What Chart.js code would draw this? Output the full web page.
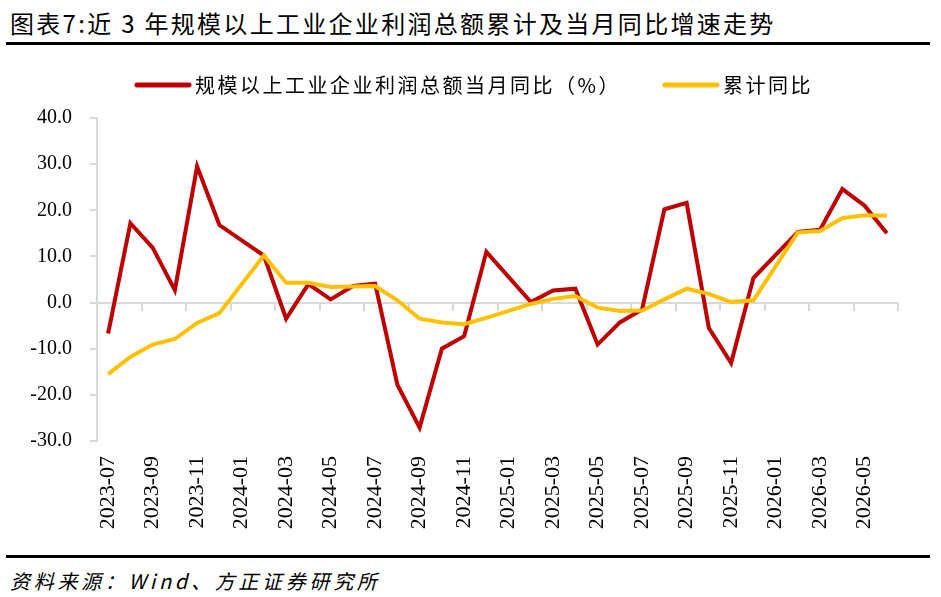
<!DOCTYPE html>
<html>
<head>
<meta charset="utf-8">
<script src="https://cdn.jsdelivr.net/npm/chart.js@4.4.0/dist/chart.umd.min.js"></script>
<style>
  body { margin: 0; background: #fff; }
  #page { position: relative; width: 941px; height: 597px; overflow: hidden; }
  #title { position: absolute; left: 10px; top: 11px; font: 24px/1 "Noto Sans CJK SC"; letter-spacing: 2.3px; color: #000; white-space: nowrap; }
  .rule { position: absolute; left: 6px; width: 924px; height: 3px; background: #000; }
  #source { position: absolute; left: 10px; top: 571px; font: italic 20px/1 "Noto Sans CJK SC"; letter-spacing: 3.7px; color: #000; white-space: nowrap; }
  #box { position: absolute; left: 0; top: 46px; width: 941px; height: 508px; }
</style>
</head>
<body>
<div id="page">
  <div id="title">图表7:近 3 年规模以上工业企业利润总额累计及当月同比增速走势</div>
  <div class="rule" style="top:42px"></div>
  <div id="box"><canvas id="chart"></canvas></div>
  <div class="rule" style="top:555px"></div>
  <div id="source">资料来源：Wind、方正证券研究所</div>
</div>
<script>
// months (Jan has no separate figure, reported together with Feb)
var months = ['2023-07','2023-08','2023-09','2023-10','2023-11','2023-12',
              '2024-01','2024-02','2024-03','2024-04','2024-05','2024-06',
              '2024-07','2024-08','2024-09','2024-10','2024-11','2024-12',
              '2025-01','2025-02','2025-03','2025-04','2025-05','2025-06',
              '2025-07','2025-08','2025-09','2025-10','2025-11','2025-12',
              '2026-01','2026-02','2026-03','2026-04','2026-05','2026-06'];

// 当月同比 (%)
var monthYoy = [-6.7, 17.2, 11.9, 2.7, 29.5, 16.8,
                null, 10.2, -3.5, 4.0, 0.7, 3.6,
                4.1, -17.8, -27.1, -10.0, -7.3, 11.0,
                null, 0.1, 2.6, 3.0, -9.1, -4.3,
                -1.5, 20.2, 21.6, -5.5, -13.1, 5.3,
                null, 15.3, 15.8, 24.6, 21.0, 15.0];

// 累计同比 (%)
var cumYoy = [-15.5, -11.8, -9.1, -7.9, -4.4, -2.3,
              null, 10.2, 4.3, 4.3, 3.4, 3.5,
              3.6, 0.5, -3.5, -4.3, -4.7, -3.3,
              null, -0.3, 0.8, 1.4, -1.1, -1.8,
              -1.7, 0.7, 3.0, 1.9, 0.1, 0.5,
              null, 15.2, 15.5, 18.3, 18.9, 18.8];

var yMin = -30, yMax = 40, yStep = 10;

var axisGray = '#d9d9d9';

// legend drawn as line samples
var lineLegend = {
    id: 'lineLegend',
    afterDraw: function(chart, args, opts){
        var ctx = chart.ctx;
        ctx.save();
        ctx.font = opts.font;
        if ('letterSpacing' in ctx) ctx.letterSpacing = opts.letterSpacing;
        ctx.textBaseline = 'middle';
        var x = opts.x;
        chart.data.datasets.forEach(function(ds){
            ctx.strokeStyle = ds.borderColor;
            ctx.lineWidth = opts.lineWidth;
            ctx.lineCap = 'round';
            ctx.beginPath();
            ctx.moveTo(x, opts.y);
            ctx.lineTo(x + opts.sample, opts.y);
            ctx.stroke();
            x += opts.sample + opts.gap;
            ctx.fillStyle = '#000';
            ctx.fillText(ds.label, x, opts.y);
            x += ctx.measureText(ds.label).width + opts.spacing;
        });
        ctx.restore();
    }
};

var graph = new Chart(document.getElementById('chart'), {
    type: 'line',
    data: {
        labels: months,
        datasets: [{
            label: '规模以上工业企业利润总额当月同比（%）',
            data: monthYoy,
            borderColor: '#C00000',
            backgroundColor: '#C00000',
            borderWidth: 4,
            pointRadius: 0,
            tension: 0,
            spanGaps: true,
            order: 1
        }, {
            label: '累计同比',
            data: cumYoy,
            borderColor: '#FFC000',
            backgroundColor: '#FFC000',
            borderWidth: 4,
            pointRadius: 0,
            tension: 0,
            spanGaps: true,
            order: 0
        }]
    },
    options: {
        responsive: true,
        maintainAspectRatio: false,
        animation: false,
        layout: { padding: { top: 72, right: 43, left: 0, bottom: 0 } },
        plugins: {
            legend: { display: false },
            tooltip: { enabled: false },
            lineLegend: {
                x: 137, y: 39, sample: 52, gap: 6, spacing: 44, lineWidth: 5,
                font: '20px "Noto Sans CJK SC"', letterSpacing: '2.5px'
            }
        },
        scales: {
            x: {
                offset: true,
                grid: { display: false, drawTicks: false },
                border: { display: false },
                ticks: {
                    autoSkip: false, maxRotation: 90, minRotation: 90, padding: 15,
                    color: '#000',
                    font: { family: 'Liberation Serif', size: 22 },
                    callback: function(v, i){ return i % 2 === 0 ? months[i] : ''; }
                },
                afterFit: function(s){ s.height = 113; }
            },
            x2: {
                axis: 'x',
                type: 'category',
                labels: months,
                position: { y: 0 },
                offset: true,
                ticks: { display: false },
                grid: {
                    offset: true, drawOnChartArea: false, tickLength: 7, lineWidth: 2,
                    color: function(c){ return (c.index === undefined || c.index % 2 === 0) ? axisGray : 'rgba(0,0,0,0)'; }
                },
                border: { color: axisGray, width: 2 }
            },
            y: {
                min: yMin, max: yMax,
                ticks: {
                    stepSize: yStep, padding: 18, color: '#000',
                    font: { family: 'Liberation Serif', size: 20 },
                    callback: function(v){ return v.toFixed(1); }
                },
                grid: { drawOnChartArea: false, color: axisGray, lineWidth: 2, tickLength: 7 },
                border: { color: axisGray, width: 2 },
                afterFit: function(s){ s.width = 97; }
            }
        }
    },
    plugins: [lineLegend]
});
</script>
</body>
</html>
